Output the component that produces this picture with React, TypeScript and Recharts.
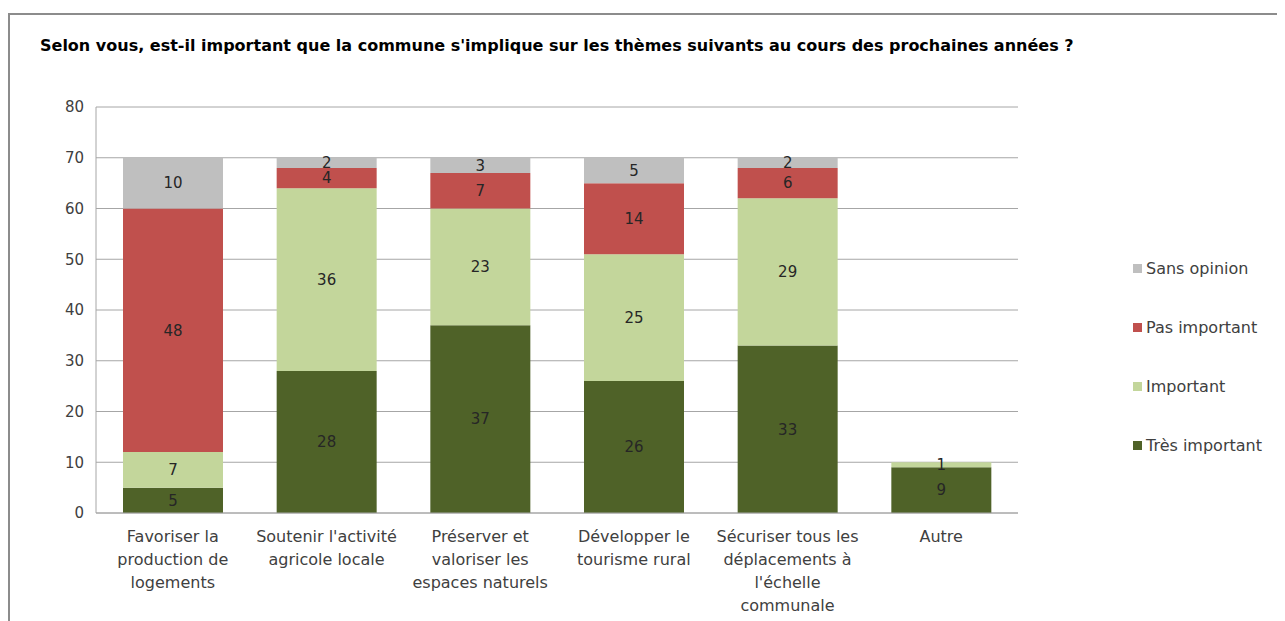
import { BarChart, Bar, XAxis, YAxis, CartesianGrid, LabelList } from 'recharts'

const categories = [
  'Favoriser la\nproduction de\nlogements',
  "Soutenir l'activité\nagricole locale",
  'Préserver et\nvaloriser les\nespaces naturels',
  'Développer le\ntourisme rural',
  'Sécuriser tous les\ndéplacements à\nl\'échelle\ncommunale',
  'Autre',
]
const tresImportant = [5, 28, 37, 26, 33, 9]
const important = [7, 36, 23, 25, 29, 1]
const pasImportant = [48, 4, 7, 14, 6, 0]
const sansOpinion = [10, 2, 3, 5, 2, 0]
const yTicks = [0, 10, 20, 30, 40, 50, 60, 70, 80]

const series = [
  { key: 'Très important', values: tresImportant, color: '#4F6228' },
  { key: 'Important', values: important, color: '#C3D69B' },
  { key: 'Pas important', values: pasImportant, color: '#C0504D' },
  { key: 'Sans opinion', values: sansOpinion, color: '#BFBFBF' },
]

const data = categories.map((c, i) => {
  const row: Record<string, string | number | null> = { name: c }
  series.forEach(s => {
    row[s.key] = s.values[i] === 0 ? null : s.values[i]
  })
  return row
})

const FONT = '"DejaVu Sans", sans-serif'

function CategoryTick({ x, y, payload }: any) {
  const lines = String(payload.value).split('\n')
  return (
    <text x={x} y={y} textAnchor="middle" fill="#404040" fontSize={16} fontFamily={FONT}>
      {lines.map((l, i) => (
        <tspan key={i} x={x} dy={i === 0 ? 21 : 23}>{l}</tspan>
      ))}
    </text>
  )
}

function LegendBox() {
  const items = [...series].reverse()
  return (
    <div style={{ position: 'absolute', left: 1125, top: 231, fontFamily: FONT, fontSize: 16, color: '#404040' }}>
      {items.map(s => (
        <div key={s.key} style={{ display: 'flex', alignItems: 'center', height: 59, whiteSpace: 'nowrap' }}>
          <span style={{ width: 9, height: 9, background: s.color, marginRight: 4, display: 'inline-block' }} />
          {s.key}
        </div>
      ))}
    </div>
  )
}

export default function App() {
  return (
    <div style={{ position: 'relative', width: 1277, height: 613 }}>
      <div style={{ position: 'absolute', left: 0, top: 5, width: 1277, height: 608, borderTop: '2px solid #8c8c8c', borderLeft: '2px solid #8c8c8c', boxSizing: 'border-box' }} />
      <div style={{ position: 'absolute', left: 32, top: 28, fontFamily: FONT, fontWeight: 'bold', fontSize: 16, color: '#000', whiteSpace: 'nowrap' }}>
        Selon vous, est-il important que la commune s'implique sur les thèmes suivants au cours des prochaines années ?
      </div>
      <div style={{ position: 'absolute', left: 0, top: 0 }}>
        <BarChart width={1277} height={613} data={data} margin={{ top: 99, right: 267, bottom: 8, left: 0 }} barSize={100}>
          <CartesianGrid vertical={false} stroke="#a6a6a6" />
          <XAxis dataKey="name" tick={<CategoryTick />} tickLine={false} axisLine={{ stroke: '#a6a6a6' }} interval={0} height={100} />
          <YAxis width={88} domain={[0, 80]} ticks={yTicks} tickLine={false} axisLine={{ stroke: '#a6a6a6' }} tick={{ fill: '#404040', fontSize: 15, fontFamily: FONT }} tickMargin={6} />
          {series.map(s => (
            <Bar key={s.key} dataKey={s.key} stackId="a" fill={s.color} isAnimationActive={false}>
              <LabelList dataKey={s.key} position="center" fill="#262626" fontSize={15} fontFamily={FONT} />
            </Bar>
          ))}
        </BarChart>
      </div>
      <LegendBox />
    </div>
  )
}
